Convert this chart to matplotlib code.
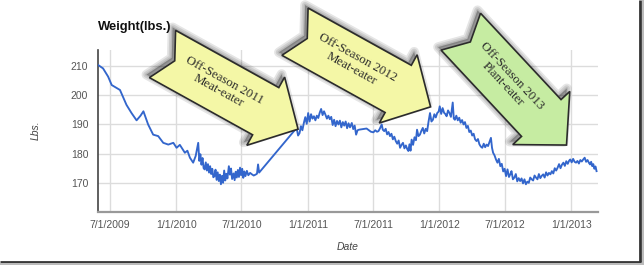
import matplotlib
matplotlib.use("Agg")
import matplotlib.pyplot as plt
import matplotlib.dates as mdates
from matplotlib.patches import Polygon
import numpy as np
import pandas as pd

# weigh-ins (lbs.)
dates_2009 = ['2009-05-30', '2009-06-12', '2009-06-26', '2009-07-06', '2009-07-18', '2009-07-29',
              '2009-08-16', '2009-08-30', '2009-09-13', '2009-09-24', '2009-10-02', '2009-10-15',
              '2009-10-29', '2009-11-12', '2009-11-26', '2009-12-10', '2009-12-24']
weights_2009 = [210.3, 209.2, 206.4, 203.5, 202.6, 201.8,
                196.7, 193.9, 191.4, 193.0, 194.5, 190.0,
                186.5, 186.0, 183.7, 183.1, 183.7]

dates_2010 = ['2010-01-02', '2010-01-11', '2010-01-25', '2010-02-01', '2010-02-08', '2010-02-17',
              '2010-02-24', '2010-03-03', '2010-03-06', '2010-03-09', '2010-03-12', '2010-03-15',
              '2010-03-18', '2010-03-21', '2010-03-24', '2010-03-27', '2010-03-30', '2010-04-02',
              '2010-04-05', '2010-04-08', '2010-04-11', '2010-04-14', '2010-04-17', '2010-04-20',
              '2010-04-23', '2010-04-26', '2010-04-29', '2010-05-02', '2010-05-05', '2010-05-08',
              '2010-05-11', '2010-05-14', '2010-05-17', '2010-05-20', '2010-05-23', '2010-05-27',
              '2010-05-30', '2010-06-02', '2010-06-05', '2010-06-09', '2010-06-12', '2010-06-15',
              '2010-06-18', '2010-06-21', '2010-06-24', '2010-06-27', '2010-06-30', '2010-07-03',
              '2010-07-06', '2010-07-09', '2010-07-12', '2010-07-16', '2010-07-20', '2010-07-25',
              '2010-07-30', '2010-08-04', '2010-08-09', '2010-08-13', '2010-08-16', '2010-08-19',
              '2010-12-01', '2010-12-05', '2010-12-09', '2010-12-13', '2010-12-17', '2010-12-21',
              '2010-12-25', '2010-12-29']
weights_2010 = [182.0, 183.0, 180.3, 181.0, 178.6, 176.9,
                179.2, 183.7, 177.5, 179.8, 176.2, 178.5,
                175.0, 174.6, 177.0, 174.2, 176.4, 173.5,
                175.7, 173.0, 174.8, 171.9, 172.3, 174.5,
                171.0, 173.6, 170.6, 172.8, 169.5, 172.4,
                170.0, 174.2, 170.8, 173.1, 171.5, 175.7,
                172.8, 174.9, 171.3, 173.2, 170.9, 173.8,
                171.8, 174.4, 172.0, 175.2, 172.6, 174.8,
                171.7, 173.9, 172.3, 174.1, 172.6, 173.4,
                172.9, 172.5, 172.8, 173.1, 176.3, 173.5,
                188.8, 186.2, 187.0, 189.4, 188.0, 190.5,
                192.5, 190.2]

dates_2011 = ['2011-01-02', '2011-01-06', '2011-01-10', '2011-01-14', '2011-01-18', '2011-01-22',
              '2011-01-26', '2011-01-30', '2011-02-03', '2011-02-07', '2011-02-11', '2011-02-15',
              '2011-02-19', '2011-02-23', '2011-02-27', '2011-03-03', '2011-03-07', '2011-03-11',
              '2011-03-15', '2011-03-19', '2011-03-23', '2011-03-27', '2011-03-31', '2011-04-04',
              '2011-04-08', '2011-04-12', '2011-04-16', '2011-04-20', '2011-04-24', '2011-04-28',
              '2011-05-03', '2011-05-07', '2011-05-11', '2011-05-15', '2011-05-19', '2011-05-23',
              '2011-06-13', '2011-06-25', '2011-07-02', '2011-07-07', '2011-07-12', '2011-07-16',
              '2011-07-20', '2011-07-25', '2011-07-28', '2011-08-01', '2011-08-05', '2011-08-09',
              '2011-08-13', '2011-08-17', '2011-08-21', '2011-08-25', '2011-08-29', '2011-09-02',
              '2011-09-06', '2011-09-10', '2011-09-14', '2011-09-18', '2011-09-22', '2011-09-26',
              '2011-09-30', '2011-10-04', '2011-10-07', '2011-10-10', '2011-10-13', '2011-10-16',
              '2011-10-20', '2011-10-24', '2011-10-28', '2011-10-31', '2011-11-04', '2011-11-08',
              '2011-11-12', '2011-11-16', '2011-11-20', '2011-11-24', '2011-11-28', '2011-12-02',
              '2011-12-06', '2011-12-10', '2011-12-14', '2011-12-18', '2011-12-22', '2011-12-26',
              '2011-12-30']
weights_2011 = [193.9, 191.0, 193.5, 192.0, 192.8, 191.4,
                193.0, 192.2, 194.0, 195.3, 193.2, 194.5,
                193.3, 192.0, 193.0, 191.8, 192.6, 189.8,
                191.6, 189.4, 191.2, 190.0, 191.3, 189.0,
                190.8, 189.6, 191.0, 188.7, 190.4, 189.0,
                190.5, 188.4, 189.6, 186.5, 188.0, 188.2,
                188.6, 187.5, 187.3, 188.0, 187.5, 187.7,
                188.6, 190.0, 188.2, 187.7, 188.5, 186.6,
                187.4, 186.0, 186.8, 184.9, 185.8, 184.3,
                183.4, 184.5, 182.0, 183.0, 183.7, 181.8,
                182.8, 181.5, 180.9, 183.2, 181.0, 184.8,
                183.0, 185.6, 184.6, 188.2, 186.0, 186.5,
                187.8, 188.8, 186.9, 188.5, 187.7, 191.0,
                193.9, 191.0, 191.6, 193.5, 192.4, 193.9,
                194.4]

dates_2012 = ['2012-01-02', '2012-01-06', '2012-01-10', '2012-01-14', '2012-01-18', '2012-01-21',
              '2012-01-25', '2012-01-29', '2012-02-02', '2012-02-07', '2012-02-10', '2012-02-13',
              '2012-02-17', '2012-02-21', '2012-02-25', '2012-02-29', '2012-03-04', '2012-03-08',
              '2012-03-12', '2012-03-16', '2012-03-20', '2012-03-24', '2012-03-28', '2012-04-01',
              '2012-04-05', '2012-04-09', '2012-04-13', '2012-04-17', '2012-04-21', '2012-04-25',
              '2012-04-29', '2012-05-03', '2012-05-07', '2012-05-11', '2012-05-15', '2012-05-19',
              '2012-05-23', '2012-05-26', '2012-05-29', '2012-06-02', '2012-06-06', '2012-06-10',
              '2012-06-14', '2012-06-18', '2012-06-22', '2012-06-26', '2012-06-30', '2012-07-04',
              '2012-07-08', '2012-07-12', '2012-07-16', '2012-07-19', '2012-07-23', '2012-07-27',
              '2012-07-31', '2012-08-04', '2012-08-08', '2012-08-12', '2012-08-16', '2012-08-20',
              '2012-08-24', '2012-08-28', '2012-09-01', '2012-09-05', '2012-09-09', '2012-09-13',
              '2012-09-17', '2012-09-21', '2012-09-25', '2012-09-29', '2012-10-03', '2012-10-07',
              '2012-10-11', '2012-10-15', '2012-10-19', '2012-10-23', '2012-10-27', '2012-10-31',
              '2012-11-04', '2012-11-08', '2012-11-12', '2012-11-16', '2012-11-20', '2012-11-24',
              '2012-11-28', '2012-12-02', '2012-12-06', '2012-12-10', '2012-12-14', '2012-12-18',
              '2012-12-22', '2012-12-26', '2012-12-29']
weights_2012 = [196.2, 193.6, 195.6, 194.0, 193.5, 192.8,
                194.8, 193.9, 192.6, 197.5, 192.0, 191.6,
                193.0, 191.4, 192.3, 190.6, 191.5, 190.0,
                190.8, 188.8, 189.5, 187.4, 187.9, 186.2,
                186.8, 184.9, 184.3, 185.0, 183.2, 182.4,
                182.0, 183.4, 182.2, 183.1, 182.6, 184.0,
                185.4, 182.0, 180.3, 179.4, 178.0, 176.9,
                178.2, 175.7, 176.5, 173.9, 174.8, 172.3,
                174.6, 172.0, 173.0, 174.0, 171.2, 171.8,
                173.0, 170.5, 171.6, 170.6, 171.5, 169.8,
                171.2, 169.5, 170.4, 170.0, 171.8, 171.2,
                170.8, 172.5, 171.8, 171.2, 173.0, 171.6,
                172.4, 172.9, 171.8, 173.6, 172.5, 173.4,
                172.9, 174.0, 173.2, 175.0, 174.2, 175.2,
                176.4, 175.0, 176.2, 176.9, 175.8, 177.4,
                176.5, 177.6, 178.0]

dates_2013 = ['2013-01-02', '2013-01-06', '2013-01-10', '2013-01-14', '2013-01-18', '2013-01-22',
              '2013-01-26', '2013-01-30', '2013-02-03', '2013-02-07', '2013-02-11', '2013-02-15',
              '2013-02-19', '2013-02-22', '2013-02-25', '2013-02-28', '2013-03-03', '2013-03-06',
              '2013-03-09', '2013-03-12']
weights_2013 = [177.0, 178.2, 177.2, 176.9, 177.5, 176.6,
                177.8, 177.3, 178.0, 178.6, 177.2, 177.8,
                176.8, 176.3, 177.2, 175.7, 176.4, 174.8,
                175.6, 174.0]

tick_dates = ['2009-07-01', '2010-01-01', '2010-07-01', '2011-01-01',
              '2011-07-01', '2012-01-01', '2012-07-01', '2013-01-01']
tick_labels = ['7/1/2009', '1/1/2010', '7/1/2010', '1/1/2011',
               '7/1/2011', '1/1/2012', '7/1/2012', '1/1/2013']
y_ticks = [170, 180, 190, 200, 210]

callout_texts = ['Off-Season 2011\nMeat-eater', 'Off-Season 2012\nMeat-eater',
                 'Off-Season 2013\nPlant-eater']
callout_colors = ['#f4f7a6', '#f4f7a6', '#c6eca2']

dates = pd.to_datetime(dates_2009 + dates_2010 + dates_2011 + dates_2012 + dates_2013)
weights = weights_2009 + weights_2010 + weights_2011 + weights_2012 + weights_2013

W, H = 644, 265
fig = plt.figure(figsize=(W / 100, H / 100), dpi=100)
fig.patch.set_facecolor('white')

ax = fig.add_axes([98 / W, 1 - 212 / H, 500 / W, 162 / H])
ax.plot(dates, weights, color='#3366cc', lw=1.35, zorder=3)
ax.set_xlim(mdates.date2num(pd.Timestamp('2009-05-29')), mdates.date2num(pd.Timestamp('2013-03-16')))
ax.set_ylim(160, 215.5)
ax.set_xticks(pd.to_datetime(tick_dates))
ax.set_xticklabels(tick_labels)
ax.set_yticks(y_ticks)
ax.grid(True, color='#dcdcdc', lw=1.0)
ax.set_axisbelow(True)
ax.tick_params(length=0, labelsize=7.5, labelcolor='#555555')
ax.tick_params(axis='y', pad=7)
ax.tick_params(axis='x', pad=6)
for lab in ax.get_xticklabels() + ax.get_yticklabels():
    lab.set_fontfamily('Liberation Sans')
for s in ['top', 'right']:
    ax.spines[s].set_visible(False)
ax.spines['left'].set_color('#444444')
ax.spines['left'].set_linewidth(1.2)
ax.spines['bottom'].set_color('#999999')
ax.spines['bottom'].set_linewidth(1.6)

fig.text(98 / W, 1 - 27 / H, 'Weight(lbs.)', fontsize=9.4, fontweight='bold',
         family='Liberation Sans', va='center', ha='left', color='#111111')
fig.text(36 / W, 1 - 130 / H, 'Lbs.', fontsize=7.5, style='italic', rotation=90,
         family='Liberation Sans', va='center', ha='center', color='#444444')
fig.text(348 / W, 1 - 247 / H, 'Date', fontsize=7.5, style='italic',
         family='Liberation Sans', va='center', ha='center', color='#444444')

# overlay in pixel coords for the callout arrows and the frame
ov = fig.add_axes([0, 0, 1, 1], zorder=5)
ov.set_xlim(0, W)
ov.set_ylim(H, 0)
ov.axis('off')
ov.patch.set_alpha(0)


def arrow_shape(cx, cy, ang, L=155, hw=27, hb=118, hh=39, notch=14):
    a = np.radians(ang)
    local = [(0, -hw), (hb, -hw), (hb, -hh), (L, 0), (hb, hh), (hb, hw), (0, hw), (notch, 0)]
    return [(cx + u * np.cos(a) - v * np.sin(a), cy + u * np.sin(a) + v * np.cos(a)) for u, v in local]


anchors = [(162.5, 54, 29), (295, 31.7, 29), (460.8, 31.7, 47)]
for (cx, cy, ang), txt, col in zip(anchors, callout_texts, callout_colors):
    pts = arrow_shape(cx, cy, ang)
    for lw in [7, 4.5, 2]:
        sh = [(x - 3, y - 3) for x, y in pts]
        ov.add_patch(Polygon(sh, closed=True, facecolor='#000000', edgecolor='#000000',
                             lw=lw, alpha=0.1, joinstyle='round'))
    ov.add_patch(Polygon(pts, closed=True, facecolor=col, edgecolor='#2b2b2b', lw=1.2))
    a = np.radians(ang)
    tx = cx + 67 * np.cos(a) + 1 * np.sin(a)
    ty = cy + 67 * np.sin(a) - 1 * np.cos(a)
    ov.text(tx, ty, txt, rotation=-ang, rotation_mode='anchor', ha='center', va='center',
            multialignment='center', fontsize=9.3, family='Liberation Serif',
            color='#2a2a2a', linespacing=1.1)

# screenshot frame
ov.plot([0, 641], [262, 262], color='#333333', lw=2, solid_capstyle='butt')
ov.plot([640.5, 640.5], [0, 262], color='#333333', lw=2, solid_capstyle='butt')
ov.plot([0, 643], [264, 264], color='#bbbbbb', lw=1.5)
ov.plot([642.8, 642.8], [0, 264], color='#bbbbbb', lw=1.5)

fig.savefig('out.png', dpi=100)
